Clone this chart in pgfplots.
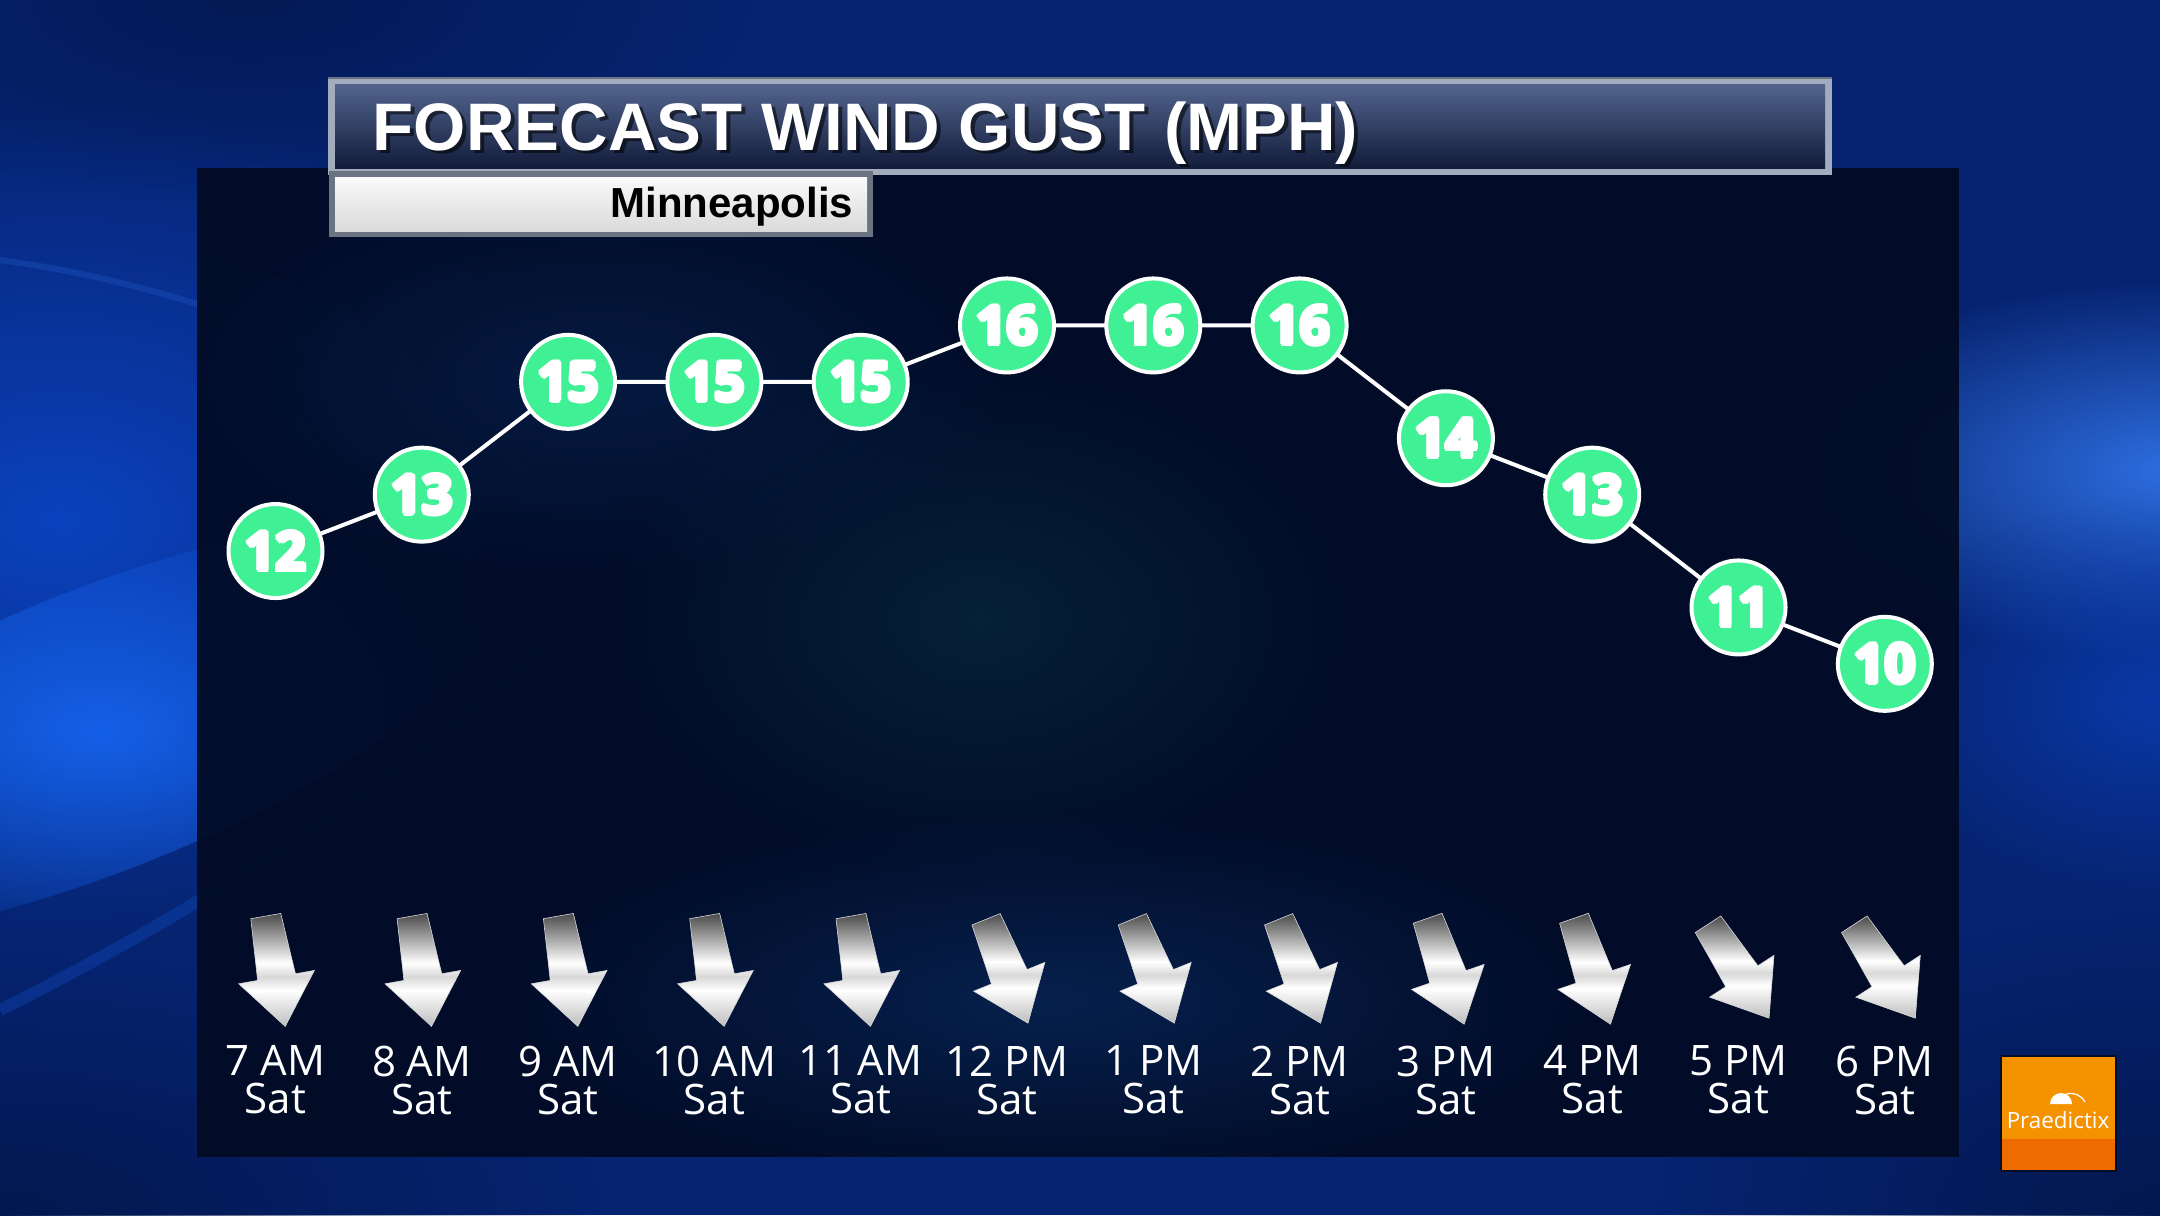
\documentclass[border=0pt]{standalone}
\usepackage{pgfplots}
\pgfplotsset{compat=1.18}
\usepackage{pgfplotstable}
\usepackage{fontspec}
\setmainfont{Open Sans}
\newfontfamily\titlefont{Liberation Sans}
\usetikzlibrary{fadings}
\tikzfading[name=fade out, inner color=transparent!0, outer color=transparent!100]

\definecolor{bgbase}{HTML}{062370}
\definecolor{bgdark}{HTML}{03184F}
\definecolor{glowA}{HTML}{1560E8}
\definecolor{glowB}{HTML}{0B42BE}
\definecolor{glowR}{HTML}{2E6FE2}
\definecolor{panelc}{HTML}{020B24}
\definecolor{panelglow}{HTML}{0C3A7A}
\definecolor{tealglow}{HTML}{0B4050}
\definecolor{markgreen}{HTML}{40F095}
\definecolor{bartop}{HTML}{52648E}
\definecolor{barbot}{HTML}{121C3A}
\definecolor{barborder}{HTML}{A3ACBC}
\definecolor{subtop}{HTML}{FAFAFA}
\definecolor{subbot}{HTML}{DADADA}
\definecolor{subborder}{HTML}{6B7382}
\definecolor{logoA}{HTML}{F49200}
\definecolor{logoB}{HTML}{EE6B00}
\definecolor{arrowtip}{HTML}{BDBDBD}
\definecolor{arrowmid}{HTML}{D8D8D8}
\definecolor{arrowtail}{HTML}{4A4A4A}

\pgfdeclareverticalshading{arrowshade}{100bp}{color(0bp)=(arrowtip); color(25bp)=(arrowtip); color(41bp)=(white); color(47bp)=(arrowmid); color(53bp)=(white); color(75bp)=(arrowtail); color(100bp)=(arrowtail)}

\pgfdeclareplotmark{windarrow}{%
  \pgfpathmoveto{\pgfqpoint{-3.8pt}{14pt}}%
  \pgfpathlineto{\pgfqpoint{3.8pt}{14pt}}%
  \pgfpathlineto{\pgfqpoint{4.8pt}{-1.5pt}}%
  \pgfpathlineto{\pgfqpoint{9.6pt}{-1.5pt}}%
  \pgfpathlineto{\pgfqpoint{0pt}{-14pt}}%
  \pgfpathlineto{\pgfqpoint{-9.6pt}{-1.5pt}}%
  \pgfpathlineto{\pgfqpoint{-4.8pt}{-1.5pt}}%
  \pgfpathclose
  \pgfshadepath{arrowshade}{0}%
  \pgfsetstrokecolor{arrowmid}%
  \pgfsetlinewidth{0.15pt}%
  \pgfusepath{stroke}%
}

\newsavebox\oltbox
\newdimen\olw \olw=0.55pt
\newdimen\olv \olv=0.39pt
\newcommand\olt[1]{\sbox\oltbox{#1}%
  \makebox[\wd\oltbox][l]{%
    \color{black}%
    \rlap{\kern-\olw\usebox\oltbox}%
    \rlap{\kern\olw\usebox\oltbox}%
    \rlap{\raisebox{\olw}{\usebox\oltbox}}%
    \rlap{\raisebox{-\olw}{\usebox\oltbox}}%
    \rlap{\kern-\olv\raisebox{\olv}{\usebox\oltbox}}%
    \rlap{\kern\olv\raisebox{\olv}{\usebox\oltbox}}%
    \rlap{\kern-\olv\raisebox{-\olv}{\usebox\oltbox}}%
    \rlap{\kern\olv\raisebox{-\olv}{\usebox\oltbox}}%
    \color{white}\usebox\oltbox}}

\pgfplotstableread{
x y lab
0 12 12
1 13 13
2 15 15
3 15 15
4 15 15
5 16 16
6 16 16
7 16 16
8 14 14
9 13 13
10 11 11
11 10 10
}\gusts

\pgfplotstableread{
x y ang
0 4.55 10
1 4.55 10
2 4.55 10
3 4.55 10
4 4.55 10
5 4.55 22
6 4.55 22
7 4.55 22
8 4.55 19
9 4.55 19
10 4.55 33
11 4.55 33
}\winddir

\begin{document}
\begin{tikzpicture}
\begin{scope}[x=0.25pt,y=-0.25pt]
  % background
  \fill[bgbase] (0,0) rectangle (2160,1215);
  \fill[glowB, path fading=fade out] (60,520) ellipse [x radius=620, y radius=420];
  \fill[glowA, path fading=fade out, rotate around={22:(100,730)}] (100,730) ellipse [x radius=440, y radius=140];
  \fill[glowR, path fading=fade out] (2180,470) ellipse [x radius=420, y radius=190];
  \fill[glowB, path fading=fade out, opacity=0.7] (2160,700) ellipse [x radius=300, y radius=200];
  \fill[bgdark, path fading=fade out] (0,1215) ellipse [x radius=600, y radius=260];
  \fill[bgdark, path fading=fade out] (2160,1215) ellipse [x radius=500, y radius=300];
  \fill[bgdark, path fading=fade out, opacity=0.8] (250,0) ellipse [x radius=500, y radius=200];
  \draw[glowR, opacity=0.22, line width=1.5pt] (0,260) .. controls (220,290) and (420,380) .. (560,500);
  \draw[glowA, opacity=0.25, line width=3pt] (0,1010) .. controls (200,910) and (420,770) .. (560,630);
  % panel
  \fill[panelc, opacity=0.94] (197,168) rectangle (1959,1157);
  \fill[tealglow, path fading=fade out, opacity=0.4] (980,620) ellipse [x radius=380, y radius=260];
  \fill[panelglow, path fading=fade out, opacity=0.45] (1050,1000) ellipse [x radius=560, y radius=190];
  \fill[panelglow, path fading=fade out, opacity=0.3] (600,380) ellipse [x radius=420, y radius=200];
  % title bar
  \fill[barborder] (328,77) rectangle (1832,175);
  \fill[subborder] (328,77) rectangle (1832,79);
  \shade[top color=bartop, bottom color=barbot] (335,84) rectangle (1825,168);
  \fill[subborder] (329,171) rectangle (873,237);
  \shade[top color=subtop, bottom color=subbot] (335,177) rectangle (867,231);
  \node[anchor=base west, inner sep=0pt, text=black, opacity=0.55, font=\titlefont\bfseries\fontsize{16.8}{20}\selectfont] at (376,153) {FORECAST WIND GUST (MPH)};
  \node[anchor=base west, inner sep=0pt, text=white, font=\titlefont\bfseries\fontsize{16.8}{20}\selectfont] at (372,150) {FORECAST WIND GUST (MPH)};
  \node[anchor=base east, inner sep=0pt, text=black, font=\titlefont\bfseries\fontsize{10.5}{12}\selectfont] at (854,217) {Minneapolis};
  % logo
  \fill[black, opacity=0.5] (2000,1055) rectangle (2117,1172);
  \fill[logoA] (2002,1057) rectangle (2115,1139);
  \fill[logoB] (2002,1139) rectangle (2115,1170);
  \fill[white] (2050,1104) arc[start angle=180, end angle=360, radius=11] -- cycle;
  \draw[white, line width=0.3pt] (2066,1094) .. controls (2075,1092) and (2082,1096) .. (2085,1102);
  \node[text=white, inner sep=0pt, font=\fontsize{5.6}{6}\selectfont] at (2058,1120) {Praedictix};
\end{scope}

\begin{axis}[
  at={(0pt,-303.75pt)}, anchor=south west,
  scale only axis, width=540pt, height=303.75pt,
  xmin=-1.8831, xmax=12.881, ymin=0.227, ymax=21.770,
  clip=false,
  axis line style={draw=none},
  tick style={draw=none},
  ytick=\empty,
  xtick={0,...,11},
  xticklabels={{7 AM\\Sat},{8 AM\\Sat},{9 AM\\Sat},{10 AM\\Sat},{11 AM\\Sat},{12 PM\\Sat},{1 PM\\Sat},{2 PM\\Sat},{3 PM\\Sat},{4 PM\\Sat},{5 PM\\Sat},{6 PM\\Sat}},
  xticklabel style={align=center, text=white, anchor=center, yshift=33.75pt,
    font=\fontsize{10.5}{9.5}\selectfont},
]
\addplot[scatter, only marks, mark=windarrow,
  point meta=\thisrow{ang},
  visualization depends on={\thisrow{ang} \as \myang},
  scatter/@pre marker code/.code={\pgfscope\pgftransformrotate{\myang}},
  scatter/@post marker code/.code={\endpgfscope},
] table[x=x, y=y] {\winddir};

\addplot[white, line width=1pt, mark=*, mark size=11.75pt,
  mark options={fill=markgreen, draw=white, line width=1pt},
  point meta=explicit symbolic,
  nodes near coords={\olt{\pgfplotspointmeta}},
  every node near coord/.append style={anchor=center, inner sep=0pt,
    font=\bfseries\fontsize{13.5}{16}\selectfont},
] table[x=x, y=y, meta=lab] {\gusts};
\end{axis}
\pgfresetboundingbox
\path[use as bounding box] (0pt,0pt) rectangle (540pt,-303.75pt);
\end{tikzpicture}
\end{document}
